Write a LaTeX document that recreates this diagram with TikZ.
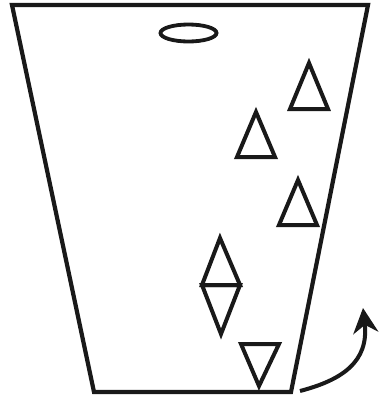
\documentclass[tikz,border=0pt]{standalone}
\usetikzlibrary{arrows.meta}
\begin{document}
\begin{tikzpicture}[x=1pt,y=-1pt,
  outline/.style={line width=4.2pt,line join=miter,black!90},
  tri/.style={line width=4pt,line join=miter,black!90}]
\useasboundingbox (0,0) rectangle (387,402);
% trapezoid
\draw[outline] (12,5) -- (368,5) -- (291,392) -- (94,392) -- cycle;
% ellipse
\draw[line width=3.8pt,black!90] (188.5,33) ellipse [x radius=28, y radius=8.5];
% triangles
\draw[tri] (309,63) -- (328,109) -- (290,109) -- cycle;
\draw[tri] (256,112) -- (275,157) -- (237,157) -- cycle;
\draw[tri] (298,180) -- (317,225) -- (279,225) -- cycle;
% diamond
\draw[tri] (220,238) -- (240,285) -- (202,285) -- cycle;
\draw[tri] (202,285) -- (240,285) -- (221,334) -- cycle;
% down triangle
\draw[tri] (241,344) -- (279,344) -- (259,386) -- cycle;
% curved arrow
\draw[line width=4pt,black!90,-{Stealth[length=25pt,width=25pt,inset=8pt]}]
  (300,391) .. controls (342,380) and (369,362) .. (363,308);
\end{tikzpicture}
\end{document}
